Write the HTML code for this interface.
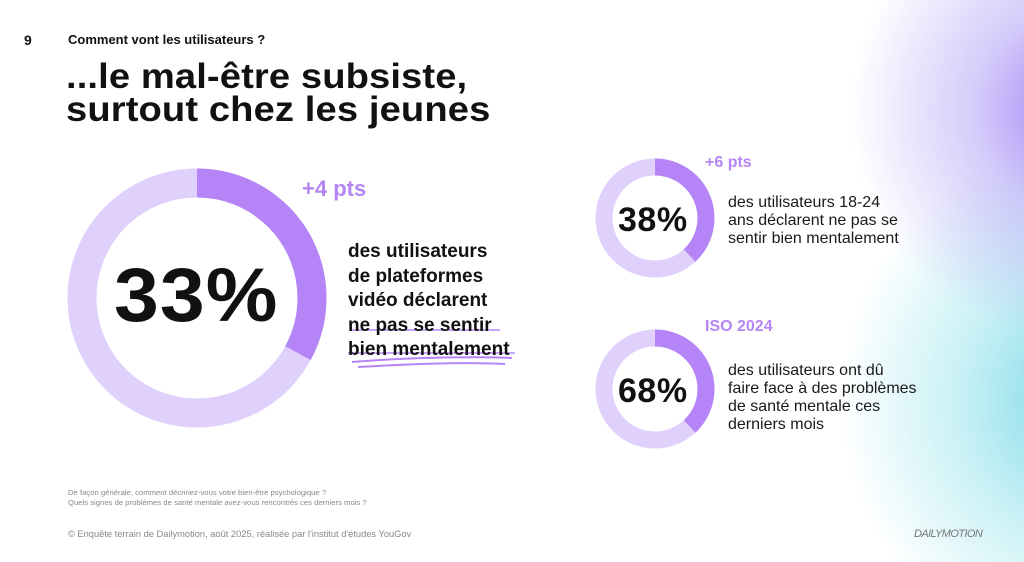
<!DOCTYPE html>
<html><head><meta charset="utf-8"><style>
body{margin:0;width:1024px;height:562px;overflow:hidden;background:#fff;font-family:"Liberation Sans",sans-serif;position:relative}
.bg{position:absolute;inset:0;background:
radial-gradient(ellipse 230px 230px at 1080px 110px,rgba(150,120,245,0.95),rgba(170,150,245,0.5) 45%,rgba(255,255,255,0) 100%),
radial-gradient(ellipse 250px 260px at 1090px 400px,rgba(110,210,230,0.95),rgba(140,225,235,0.5) 50%,rgba(255,255,255,0) 100%);}
.a{position:absolute;white-space:nowrap}
.b{font-weight:bold;color:#111}
.p{color:#b585f5;font-weight:bold}
.t{font-size:16px;line-height:18px;color:#1a1a1a}
</style></head><body>
<div class="bg"></div>
<div class="a b" style="left:24px;top:32px;font-size:14px">9</div>
<div class="a b" style="left:68px;top:32px;font-size:13px">Comment vont les utilisateurs ?</div>
<div class="a b" style="left:66px;top:60px;font-size:35px;line-height:33px;letter-spacing:0.1px;transform:scaleX(1.09);transform-origin:0 0">...le mal-être subsiste,<br>surtout chez les jeunes</div>
<svg class="a" style="left:0;top:0" width="1024" height="562">
<circle cx="197" cy="298" r="115" fill="none" stroke="#e0d0fc" stroke-width="29"/>
<circle cx="197" cy="298" r="115" fill="none" stroke="#b585f8" stroke-width="29" stroke-dasharray="238 1000" transform="rotate(-90 197 298)"/>
<circle cx="655" cy="218" r="51" fill="none" stroke="#e0d0fc" stroke-width="17"/>
<circle cx="655" cy="218" r="51" fill="none" stroke="#b585f8" stroke-width="17" stroke-dasharray="122 1000" transform="rotate(-90 655 218)"/>
<circle cx="655" cy="389" r="51" fill="none" stroke="#e0d0fc" stroke-width="17"/>
<circle cx="655" cy="389" r="51" fill="none" stroke="#b585f8" stroke-width="17" stroke-dasharray="122 1000" transform="rotate(-90 655 389)"/>
<path d="M350 330 L500 330 M348 353 L515 353" stroke="#b585f8" stroke-width="1.5"/>
<path d="M352 362 C400 358,470 356,512 358 M358 367 C410 364,470 362,505 364" stroke="#b585f8" stroke-width="2" fill="none"/>
</svg>
<div class="a b" style="left:114px;top:258px;font-size:76px;line-height:76px;letter-spacing:1px;transform:scaleX(1.06);transform-origin:0 0">33%</div>
<div class="a p" style="left:302px;top:176px;font-size:22px">+4 pts</div>
<div class="a" style="left:348px;top:240px;font-size:19px;line-height:24.5px;color:#111;font-weight:bold">des utilisateurs<br>de plateformes<br>vidéo déclarent<br>ne pas se sentir<br>bien mentalement</div>
<div class="a b" style="left:618px;top:201px;font-size:34px;letter-spacing:0.5px">38%</div>
<div class="a b" style="left:618px;top:372px;font-size:34px;letter-spacing:0.5px">68%</div>
<div class="a p" style="left:705px;top:154px;font-size:16px">+6 pts</div>
<div class="a p" style="left:705px;top:318px;font-size:16px">ISO 2024</div>
<div class="a t" style="left:728px;top:194px">des utilisateurs 18-24<br>ans déclarent ne pas se<br>sentir bien mentalement</div>
<div class="a t" style="left:728px;top:362px">des utilisateurs ont dû<br>faire face à des problèmes<br>de santé mentale ces<br>derniers mois</div>
<div class="a" style="left:68px;top:488px;font-size:7.7px;line-height:10px;color:#888">De façon générale, comment décririez-vous votre bien-être psychologique ?<br>Quels signes de problèmes de santé mentale avez-vous rencontrés ces derniers mois ?</div>
<div class="a" style="left:68px;top:529px;font-size:9.3px;color:#888">© Enquête terrain de Dailymotion, août 2025, réalisée par l'institut d'études YouGov</div>
<div class="a" style="left:914px;top:528px;font-size:11px;color:#777;font-style:italic;letter-spacing:-0.6px">DAILYMOTION</div>
</body></html>
